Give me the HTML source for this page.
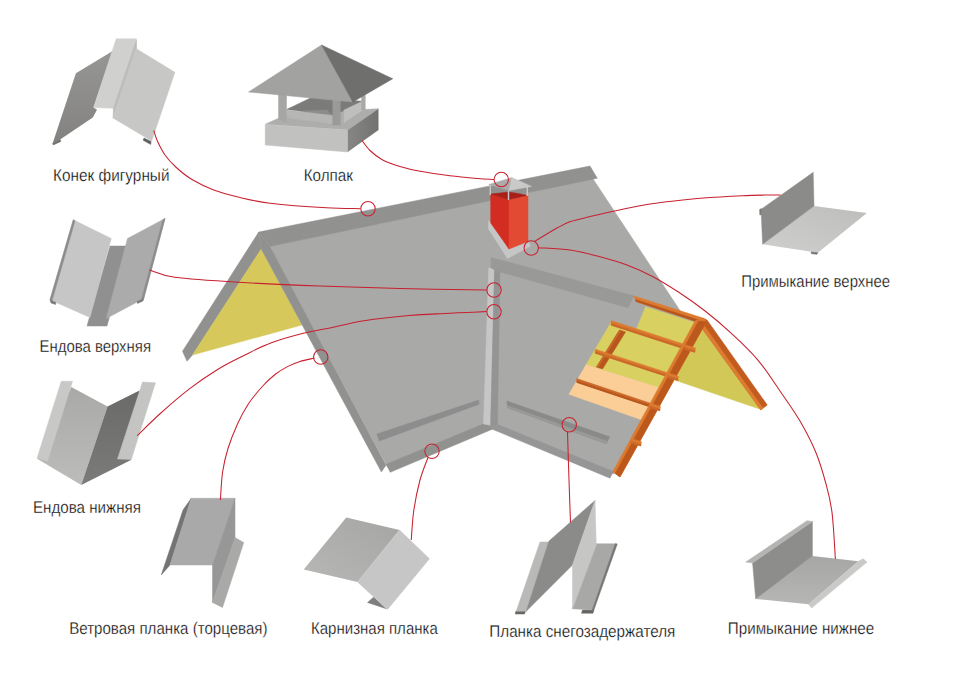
<!DOCTYPE html>
<html lang="ru"><head><meta charset="utf-8"><title>Доборные элементы кровли</title>
<style>html,body{margin:0;padding:0;background:#fff}body{width:955px;height:685px;overflow:hidden}svg{display:block}</style>
</head><body>
<svg width="955" height="685" viewBox="0 0 955 685">
<rect width="955" height="685" fill="#fff"/>
<defs>
<linearGradient id="gd" x1="0" y1="0" x2="0" y2="1"><stop offset="0" stop-color="#969694"/><stop offset="1" stop-color="#838280"/></linearGradient>
</defs>
<polygon points="258.75,232 182.5,351.25 187,361.25 192.5,355 261.25,249" fill="#91918f" stroke="#91918f" stroke-width="0.5" stroke-linejoin="round" />
<polygon points="261.25,249 192.5,355 302,325" fill="#d6c85b" stroke="#d6c85b" stroke-width="0.5" stroke-linejoin="round" />
<polygon points="270,246.5 592.8,178.6 681,312 702,320 614,474 493,428 388,468" fill="#a9a9a8" stroke="#a9a9a8" stroke-width="0.5" stroke-linejoin="round" />
<polygon points="258.75,232 590,166 597.3,178.2 270,246.5" fill="#91918f" stroke="#91918f" stroke-width="0.5" stroke-linejoin="round" />
<polygon points="258.75,232 270,246.5 386,465.2 381.4,472 261.25,249" fill="#91918f" stroke="#91918f" stroke-width="0.5" stroke-linejoin="round" />
<polygon points="386.3,464.2 485,423.3 493.5,428.7 390.2,472.3" fill="#91918f" stroke="#91918f" stroke-width="0.5" stroke-linejoin="round" />
<polygon points="497.6,424.5 613.4,471.5 610,478.2 490.5,428.5" fill="#969696" stroke="#969696" stroke-width="0.5" stroke-linejoin="round" />
<polygon points="488.75,268 494.5,268 490.5,425 483.5,424" fill="#c6c6c6" stroke="#c6c6c6" stroke-width="0.5" stroke-linejoin="round" />
<polygon points="494.5,268 500,270 497.5,424 490.5,428" fill="#949494" stroke="#949494" stroke-width="0.5" stroke-linejoin="round" />
<polygon points="376.9,434 478.7,400 479,404.2 379.4,441" fill="#8d8d8d" stroke="#8d8d8d" stroke-width="0.5" stroke-linejoin="round" />
<polygon points="506.8,401 609.5,436.7 606.4,443.8 507.6,407.7" fill="#8a8a88" stroke="#8a8a88" stroke-width="0.5" stroke-linejoin="round" />
<polygon points="507.3,405.5 607.4,441.4 606.4,443.8 507.6,407.7" fill="#9a9a98" stroke="#9a9a98" stroke-width="0.5" stroke-linejoin="round" />
<polygon points="645.6,306.8 696,323 664,389.5 586,364.8 611.2,322 636.4,329" fill="#d8d060" stroke="#d8d060" stroke-width="0.5" stroke-linejoin="round" />
<polygon points="586,364.8 662.5,388.75 643.5,420.5 568.9,394.3" fill="#fbce98" stroke="#fbce98" stroke-width="0.5" stroke-linejoin="round" />
<polygon points="619.5,330 625.5,332 602.5,369 596.5,367" fill="#b7551d" stroke="#b7551d" stroke-width="0.5" stroke-linejoin="round" />
<polygon points="619.5,330 621,330.5 598,367.5 596.5,367" fill="#c96829" stroke="#c96829" stroke-width="0.5" stroke-linejoin="round" />
<polygon points="611.2,320.6 690,346.2 690,350.8 611.2,325.2" fill="#dc7a30" stroke="#dc7a30" stroke-width="0.5" stroke-linejoin="round" /><polygon points="611.2,323.36 690,348.96 690,350.8 611.2,325.2" fill="#c96829" stroke="#c96829" stroke-width="0.5" stroke-linejoin="round" />
<polygon points="595.3,349.2 672,374.2 672,378.2 595.3,353.2" fill="#dc7a30" stroke="#dc7a30" stroke-width="0.5" stroke-linejoin="round" /><polygon points="595.3,351.6 672,376.6 672,378.2 595.3,353.2" fill="#c96829" stroke="#c96829" stroke-width="0.5" stroke-linejoin="round" />
<polygon points="576.8,378.6 654,404.4 654,408.2 576.8,382.4" fill="#c96829" stroke="#c96829" stroke-width="0.5" stroke-linejoin="round" /><polygon points="576.8,380.88 654,406.68 654,408.2 576.8,382.4" fill="#b7551d" stroke="#b7551d" stroke-width="0.5" stroke-linejoin="round" />
<polygon points="700,326 761,409.5 674.5,380" fill="#d1c858" stroke="#d1c858" stroke-width="0.5" stroke-linejoin="round" />
<polygon points="633.9,296 703,318 700.5,323 636.2,301.6" fill="#dc7a30" stroke="#dc7a30" stroke-width="0.5" stroke-linejoin="round" />
<polygon points="635.3,299.6 701.5,321 700.5,323 636.2,301.6" fill="#b7551d" stroke="#b7551d" stroke-width="0.5" stroke-linejoin="round" />
<polygon points="703,318 707.1,320.1 767.3,405.1 760.8,409.9 700,325.6" fill="#c25c1e" stroke="#c25c1e" stroke-width="0.5" stroke-linejoin="round" />
<polygon points="702.6,323.4 763,408.2 760.8,409.9 700,325.6" fill="#de7c32" stroke="#de7c32" stroke-width="0.5" stroke-linejoin="round" />
<polygon points="695,321 703,318 706.5,321.5 620,477 612.8,471.8" fill="#dc7a30" stroke="#dc7a30" stroke-width="0.5" stroke-linejoin="round" />
<polygon points="698.6,321 706.5,321.5 620,477 615.2,473.5" fill="#bd581d" stroke="#bd581d" stroke-width="0.5" stroke-linejoin="round" />
<polygon points="685.5,344.8 695.5,348 694.7,352.3 684.7,349.1" fill="#dc7a30" stroke="#dc7a30" stroke-width="0.5" stroke-linejoin="round" /><polygon points="685,347.6 695,350.8 694.7,352.3 684.7,349.1" fill="#c96829" stroke="#c96829" stroke-width="0.5" stroke-linejoin="round" />
<polygon points="668.5,373 678.5,376.2 677.7,380.5 667.7,377.3" fill="#dc7a30" stroke="#dc7a30" stroke-width="0.5" stroke-linejoin="round" /><polygon points="668,375.8 678,379 677.7,380.5 667.7,377.3" fill="#c96829" stroke="#c96829" stroke-width="0.5" stroke-linejoin="round" />
<polygon points="650.5,403.2 660.5,406.4 659.7,410.7 649.7,407.5" fill="#dc7a30" stroke="#dc7a30" stroke-width="0.5" stroke-linejoin="round" /><polygon points="650,406 660,409.2 659.7,410.7 649.7,407.5" fill="#c96829" stroke="#c96829" stroke-width="0.5" stroke-linejoin="round" />
<polygon points="631.5,438.5 641.5,441.7 640.7,446 630.7,442.8" fill="#dc7a30" stroke="#dc7a30" stroke-width="0.5" stroke-linejoin="round" /><polygon points="631,441.3 641,444.5 640.7,446 630.7,442.8" fill="#c96829" stroke="#c96829" stroke-width="0.5" stroke-linejoin="round" />
<polygon points="491,257.5 633.9,295.9 628,307.7 497,271 491,268" fill="#999998" stroke="#999998" stroke-width="0.5" stroke-linejoin="round" />
<polygon points="488.5,221 491.25,222.5 508.75,248.75 528,241.25 530.5,246 507.5,258.5 488.5,229" fill="#c6c6c6" stroke="#c6c6c6" stroke-width="0.5" stroke-linejoin="round" />
<polygon points="490.7,194 509,199.6 509,249 490.7,223" fill="#d22d20" stroke="#d22d20" stroke-width="0.5" stroke-linejoin="round" />
<polygon points="509,199.6 528,195.2 528,241.5 509,249" fill="#e24a33" stroke="#e24a33" stroke-width="0.5" stroke-linejoin="round" />
<polygon points="490.7,194 509,192 528,195.2 509,199.6" fill="#a82018" stroke="#a82018" stroke-width="0.5" stroke-linejoin="round" />
<path d="M490.3,185v10M508.5,190v10M527.3,187v9" stroke="#c9c9c9" stroke-width="1.4"/>
<polygon points="488.8,184.5 512,177.6 509,190.5" fill="#ababab" stroke="#ababab" stroke-width="0.5" stroke-linejoin="round" />
<polygon points="512,177.6 531.5,186.4 509,190.5" fill="#cacaca" stroke="#cacaca" stroke-width="0.5" stroke-linejoin="round" />
<polygon points="112.7,51 75.9,73.2 52.6,143.6 60.1,139.4 92.8,117.6 97,109.7 93.6,107.6" fill="url(#gd)"  />
<polygon points="52.6,143.4 60.1,139.4 60.9,141.4 53.2,145" fill="#6e6e6c" stroke="#6e6e6c" stroke-width="0.5" stroke-linejoin="round" />
<polygon points="116.2,38.8 136.4,38.8 136.4,48 113.6,108.3 93.6,107.6" fill="#d0d0cf" stroke="#d0d0cf" stroke-width="0.5" stroke-linejoin="round" />
<polygon points="136.4,40 136.4,48.4 113,118 113.4,108.3" fill="#bcbcbb" stroke="#bcbcbb" stroke-width="0.5" stroke-linejoin="round" />
<polygon points="136,48.6 174.9,72.3 151.7,141 113,118" fill="#c7c7c6" stroke="#c7c7c6" stroke-width="0.5" stroke-linejoin="round" />
<polygon points="144,138.1 151.1,141.5 150.7,144.4 143.1,140.2" fill="#5f5f5f" stroke="#5f5f5f" stroke-width="0.5" stroke-linejoin="round" />
<linearGradient id="gk" x1="0" y1="0" x2="1" y2="0"><stop offset="0" stop-color="#868684"/><stop offset="1" stop-color="#727270"/></linearGradient>
<polygon points="265.25,124.25 290,113 378.5,108.75 347.75,130" fill="#adadab" stroke="#adadab" stroke-width="0.5" stroke-linejoin="round" />
<polygon points="286.5,109.5 311.5,97.5 362.75,101.25 344,110.5 332.75,115.5" fill="#7b7b79" stroke="#7b7b79" stroke-width="0.5" stroke-linejoin="round" />
<polygon points="302,111 327,110 331.5,115 298.6,113.5" fill="#8c8c8a" stroke="#8c8c8a" stroke-width="0.5" stroke-linejoin="round" />
<polygon points="286.5,110 332.75,115.5 332.75,123.75 286.5,117.5" fill="#b6b6b4" stroke="#b6b6b4" stroke-width="0.5" stroke-linejoin="round" />
<polygon points="344,110 362.75,101.25 362.75,110 344,122.5" fill="#bfbfbd" stroke="#bfbfbd" stroke-width="0.5" stroke-linejoin="round" />
<polygon points="278.5,94 286.5,95 286.5,122.5 278.5,119" fill="#a6a6a4" stroke="#a6a6a4" stroke-width="0.5" stroke-linejoin="round" />
<polygon points="332.75,99 340.25,100 340.25,125 332.75,125" fill="#9a9a98" stroke="#9a9a98" stroke-width="0.5" stroke-linejoin="round" />
<polygon points="361.5,96 365.25,95 365.25,110 361.5,110" fill="#a8a8a6" stroke="#a8a8a6" stroke-width="0.5" stroke-linejoin="round" />
<polygon points="265.25,124.5 347.75,130 347.75,152 265.25,145" fill="#c1c1bf" stroke="#c1c1bf" stroke-width="0.5" stroke-linejoin="round" />
<polygon points="347.75,130 378.5,108.75 378.5,130 347.75,152" fill="url(#gk)"  />
<polygon points="321.5,45 248.5,92 352.75,102" fill="#a2a2a0" stroke="#a2a2a0" stroke-width="0.5" stroke-linejoin="round" />
<polygon points="321.5,45 352.75,102 392.75,78.75" fill="#6f6f6d" stroke="#6f6f6d" stroke-width="0.5" stroke-linejoin="round" />
<polygon points="110,246 128.5,246 107,326 87,326" fill="#909090" stroke="#909090" stroke-width="0.5" stroke-linejoin="round" />
<polygon points="73.25,219.75 111.25,238.5 90,317.5 50,299.75" fill="#c6c6c6" stroke="#c6c6c6" stroke-width="0.5" stroke-linejoin="round" />
<polygon points="73.25,219.75 75,220.7 52,300.7 50,299.75" fill="#8c8c8a" stroke="#8c8c8a" stroke-width="0.5" stroke-linejoin="round" />
<polygon points="127.5,238.5 165,218.5 143.75,298.5 106.25,318.5" fill="#ababab" stroke="#ababab" stroke-width="0.5" stroke-linejoin="round" />
<polygon points="163,219.5 165,218.5 143.75,298.5 141.5,299.5" fill="#8c8c8c" stroke="#8c8c8c" stroke-width="0.5" stroke-linejoin="round" />
<polygon points="50,299.75 56,302.5 55.5,304.5 51,303" fill="#7a7a7a" stroke="#7a7a7a" stroke-width="0.5" stroke-linejoin="round" />
<polygon points="137,301.5 143.75,298.5 143,301 137.5,303.5" fill="#7a7a7a" stroke="#7a7a7a" stroke-width="0.5" stroke-linejoin="round" />
<linearGradient id="g4a" x1="0" y1="0" x2="0" y2="1"><stop offset="0" stop-color="#a9a9a7"/><stop offset="1" stop-color="#bcbcba"/></linearGradient>
<linearGradient id="g4b" x1="0" y1="0" x2="0" y2="1"><stop offset="0" stop-color="#6a6a68"/><stop offset="1" stop-color="#7b7b79"/></linearGradient>
<polygon points="71.25,387 107.5,406.5 81.25,485 37.5,459" fill="url(#g4a)"  />
<polygon points="107.5,406.5 139.5,390.5 131,460 81.25,485" fill="url(#g4b)"  />
<polygon points="61.25,381.25 72.5,381.25 47.5,461 37,458.25" fill="#c8c8c6" stroke="#c8c8c6" stroke-width="0.5" stroke-linejoin="round" />
<polygon points="142.5,382 155.5,382.75 131.25,459.5 117.5,459" fill="#c4c4c2" stroke="#c4c4c2" stroke-width="0.5" stroke-linejoin="round" />
<polygon points="191.25,498.25 170,565 161.25,575 183,510" fill="#747472" stroke="#747472" stroke-width="0.5" stroke-linejoin="round" />
<polygon points="191.25,498.25 235,498.25 212.5,565 170,565" fill="#a9a9a9" stroke="#a9a9a9" stroke-width="0.5" stroke-linejoin="round" />
<polygon points="235,498.25 235,538.75 212.5,602.5 212.5,565" fill="#979797" stroke="#979797" stroke-width="0.5" stroke-linejoin="round" />
<polygon points="235,537.5 243.75,542.5 222.5,607.5 212.5,602.5" fill="#a9a9a7" stroke="#a9a9a7" stroke-width="0.5" stroke-linejoin="round" />
<polygon points="367.5,602.5 373.75,597 386.25,608.75" fill="#7e7e7e" stroke="#7e7e7e" stroke-width="0.5" stroke-linejoin="round" />
<linearGradient id="g6" x1="1" y1="0" x2="0" y2="1"><stop offset="0" stop-color="#a5a5a3"/><stop offset="1" stop-color="#b7b7b5"/></linearGradient>
<polygon points="346.25,517.5 399.5,530 357.5,582 303.75,569.5" fill="url(#g6)"  />
<polygon points="399.5,530 429.5,558.75 387.5,609.5 357.5,582" fill="#c6c6c6" stroke="#c6c6c6" stroke-width="0.5" stroke-linejoin="round" />
<polygon points="516,611 525.5,611 524.5,614 515.2,614" fill="#666664" stroke="#666664" stroke-width="0.5" stroke-linejoin="round" />
<polygon points="582.5,610 594,610 593,613.2 581.5,613.2" fill="#666664" stroke="#666664" stroke-width="0.5" stroke-linejoin="round" />
<polygon points="540,542 550,542 526.25,611.25 516.25,611.25" fill="#b9b9b7" stroke="#b9b9b7" stroke-width="0.5" stroke-linejoin="round" />
<polygon points="549,541 595,500.5 572.5,565 526.25,611.25" fill="#8b8b89" stroke="#8b8b89" stroke-width="0.5" stroke-linejoin="round" />
<polygon points="594,543.75 616.25,543.75 592.5,610 572,608.75" fill="#a8a8a6" stroke="#a8a8a6" stroke-width="0.5" stroke-linejoin="round" />
<polygon points="615.3,543.75 617.3,543.9 593.8,610.2 592.2,610" fill="#767674" stroke="#767674" stroke-width="0.5" stroke-linejoin="round" />
<polygon points="595,500.5 596.25,545 572.5,608.75 572.5,565" fill="#c6c6c4" stroke="#c6c6c4" stroke-width="0.5" stroke-linejoin="round" />
<linearGradient id="gf" x1="0" y1="0" x2="0" y2="1"><stop offset="0" stop-color="#a6a6a4"/><stop offset="1" stop-color="#b6b6b4"/></linearGradient>
<polygon points="812.4,556 858.4,561.3 808.6,604.3 755.7,598.9" fill="url(#gf)"  />
<polygon points="752.6,562.9 812.4,521.5 812.4,556 755.7,598.9" fill="#8d8d8b" stroke="#8d8d8b" stroke-width="0.5" stroke-linejoin="round" />
<polygon points="745.7,562.1 807,520.7 812.4,521.5 752.6,562.9" fill="#b4b4b2" stroke="#b4b4b2" stroke-width="0.5" stroke-linejoin="round" />
<polygon points="858.4,561.3 863,558.7 867.1,562.1 811.6,608.1 808.6,604.3" fill="#c9c9c7" stroke="#c9c9c7" stroke-width="0.5" stroke-linejoin="round" />
<linearGradient id="g9" x1="0" y1="1" x2="1" y2="0"><stop offset="0" stop-color="#cfcfcd"/><stop offset="1" stop-color="#bdbdbb"/></linearGradient>
<polygon points="814,206 866.9,212.9 817.8,252.7 762.6,244.3" fill="url(#g9)"  />
<polygon points="761.1,209.3 813.2,172.3 814,206 762.6,244.3" fill="#8b8b89" stroke="#8b8b89" stroke-width="0.5" stroke-linejoin="round" />
<polygon points="759.6,209.6 761.3,208.6 761.7,214.6 759.8,215" fill="#7c7c7a" stroke="#7c7c7a" stroke-width="0.5" stroke-linejoin="round" />
<polygon points="811,252 817.8,252.7 817,254.3 811.5,253.7" fill="#6e6e6e" stroke="#6e6e6e" stroke-width="0.5" stroke-linejoin="round" />
<path d="M153.8,130.5 C154.4,132.3 155.6,137.2 157.5,141.3 C159.4,145.4 161.9,150.6 165,155 C168.1,159.4 171.8,163.4 176.3,167.5 C180.8,171.6 185.8,175.8 192,179.5 C198.2,183.2 205.8,187.0 213.8,190 C221.8,193.0 230.6,195.3 240,197.5 C249.4,199.7 255.6,201.5 270,203.2 C284.4,204.9 311.3,206.9 326.4,207.8 C341.5,208.7 354.8,208.5 360.5,208.7" fill="none" stroke="#c8202e" stroke-width="1.05"/>
<path d="M362,140.5 C363.3,142.2 366.6,147.2 370,150.5 C373.4,153.8 377.7,157.3 382.7,160 C387.7,162.7 393.8,164.6 400,166.5 C406.2,168.4 411.9,169.8 420.2,171.3 C428.5,172.9 440.4,174.6 450,175.8 C459.6,177.0 470.7,177.9 478,178.5 C485.3,179.1 491.3,179.3 494,179.5" fill="none" stroke="#c8202e" stroke-width="1.05"/>
<path d="M149.5,270 C153.8,271.2 160.1,275.2 175,277.25 C189.9,279.3 214.6,280.8 238.75,282.25 C262.9,283.7 293.1,285.0 320,286 C346.9,287.0 372.2,287.8 400,288.5 C427.8,289.2 472.1,289.8 486.5,290" fill="none" stroke="#c8202e" stroke-width="1.05"/>
<path d="M137.3,435.6 C141.0,432.1 150.7,422.2 159.2,414.5 C167.7,406.8 178.7,397.1 188.4,389.6 C198.1,382.1 208.2,375.3 217.6,369.5 C227.0,363.7 236.2,359.4 245,355 C253.8,350.6 260.8,346.7 270.7,343 C280.6,339.3 294.4,335.5 304.3,333 C314.2,330.5 320.1,329.9 330,327.9 C339.9,325.9 350.8,322.9 364,320.8 C377.2,318.8 395.5,316.8 409,315.6 C422.5,314.4 432.1,314.1 445,313.4 C457.9,312.7 479.6,311.9 486.5,311.6" fill="none" stroke="#c8202e" stroke-width="1.05"/>
<path d="M314.4,358.1 C312.0,358.7 304.5,360.1 300,361.5 C295.5,362.9 291.7,364.4 287.5,366.6 C283.3,368.8 279.2,371.2 275,374.5 C270.8,377.8 266.8,381.5 262.3,386.5 C257.8,391.5 252.1,398.2 248,404.5 C243.9,410.8 240.8,416.7 237.5,424 C234.2,431.3 230.5,440.5 228,448.5 C225.5,456.5 223.9,463.4 222.6,472 C221.3,480.6 220.8,495.3 220.4,500" fill="none" stroke="#c8202e" stroke-width="1.05"/>
<path d="M428,457.5 C426.7,461.2 422.4,471.1 420,480 C417.6,488.9 415.2,500.8 413.75,510.75 C412.3,520.8 411.7,535.1 411.25,540" fill="none" stroke="#c8202e" stroke-width="1.05"/>
<path d="M567.5,432 C567.8,440.0 568.5,464.9 569,480 C569.5,495.1 570.2,515.4 570.5,522.5" fill="none" stroke="#c8202e" stroke-width="1.05"/>
<path d="M534.5,241.5 C538.3,239.2 551.5,231.1 557.5,227.8 C563.5,224.5 565.1,223.5 570.5,221.6 C575.9,219.7 582.8,218.3 590,216.6 C597.2,214.9 605.3,213.0 613.6,211.2 C621.9,209.4 632.7,207.2 640,205.8 C647.3,204.4 649.2,204.1 657.5,203 C665.8,201.9 680.2,200.3 690,199.3 C699.8,198.3 707.5,197.8 716.2,197.2 C724.9,196.6 734.5,196.0 742.4,195.7 C750.2,195.3 756.9,195.2 763.3,195.1 C769.7,195.0 777.7,195.0 780.6,195" fill="none" stroke="#c8202e" stroke-width="1.05"/>
<path d="M538.5,247.7 C543.8,248.1 559.8,248.5 570,250 C580.2,251.5 590.6,254.3 600,256.8 C609.4,259.3 617.5,261.5 626.3,264.8 C635.0,268.1 643.8,271.9 652.5,276.5 C661.2,281.1 670.0,286.6 678.8,292.3 C687.6,298.1 696.3,304.2 705.1,311 C713.9,317.8 722.6,325.2 731.4,333.3 C740.2,341.4 749.6,350.2 757.7,359.8 C765.8,369.4 773.0,380.8 780,391 C787.0,401.2 794.0,410.7 800,421 C806.0,431.3 811.7,442.3 816,452.8 C820.3,463.3 823.3,474.1 826,484 C828.7,493.9 830.4,499.9 832,512.4 C833.6,524.9 834.8,551.2 835.4,559" fill="none" stroke="#c8202e" stroke-width="1.05"/>
<circle cx="368" cy="208.75" r="7.2" fill="none" stroke="#c8202e" stroke-width="1.05"/>
<circle cx="501.3" cy="179.5" r="7.2" fill="none" stroke="#c8202e" stroke-width="1.05"/>
<circle cx="531.25" cy="248" r="7.2" fill="none" stroke="#c8202e" stroke-width="1.05"/>
<circle cx="494" cy="290" r="7.2" fill="none" stroke="#c8202e" stroke-width="1.05"/>
<circle cx="494" cy="311.8" r="7.2" fill="none" stroke="#c8202e" stroke-width="1.05"/>
<circle cx="320.75" cy="357" r="7.2" fill="none" stroke="#c8202e" stroke-width="1.05"/>
<circle cx="432" cy="451.25" r="7.2" fill="none" stroke="#c8202e" stroke-width="1.05"/>
<circle cx="569.25" cy="424.7" r="7.2" fill="none" stroke="#c8202e" stroke-width="1.05"/>
<g font-family="'Liberation Sans', sans-serif" fill="#000" stroke="#fff" stroke-width="0.3" text-rendering="geometricPrecision">
<text x="53" y="181" font-size="17" textLength="116.5" lengthAdjust="spacingAndGlyphs">Конек фигурный</text>
<text x="303.75" y="180.5" font-size="17" textLength="49.25" lengthAdjust="spacingAndGlyphs">Колпак</text>
<text x="39.5" y="352" font-size="17" textLength="111.5" lengthAdjust="spacingAndGlyphs">Ендова верхняя</text>
<text x="33" y="512.5" font-size="17" textLength="108" lengthAdjust="spacingAndGlyphs">Ендова нижняя</text>
<text x="69.2" y="634.4" font-size="17" textLength="198.3" lengthAdjust="spacingAndGlyphs">Ветровая планка (торцевая)</text>
<text x="311" y="634" font-size="17" textLength="126.8" lengthAdjust="spacingAndGlyphs">Карнизная планка</text>
<text x="489.3" y="637" font-size="17" textLength="186" lengthAdjust="spacingAndGlyphs">Планка снегозадержателя</text>
<text x="727.8" y="634" font-size="17" textLength="146.4" lengthAdjust="spacingAndGlyphs">Примыкание нижнее</text>
<text x="741.25" y="287" font-size="17" textLength="148.75" lengthAdjust="spacingAndGlyphs">Примыкание верхнее</text>
</g>
</svg>
</body></html>
